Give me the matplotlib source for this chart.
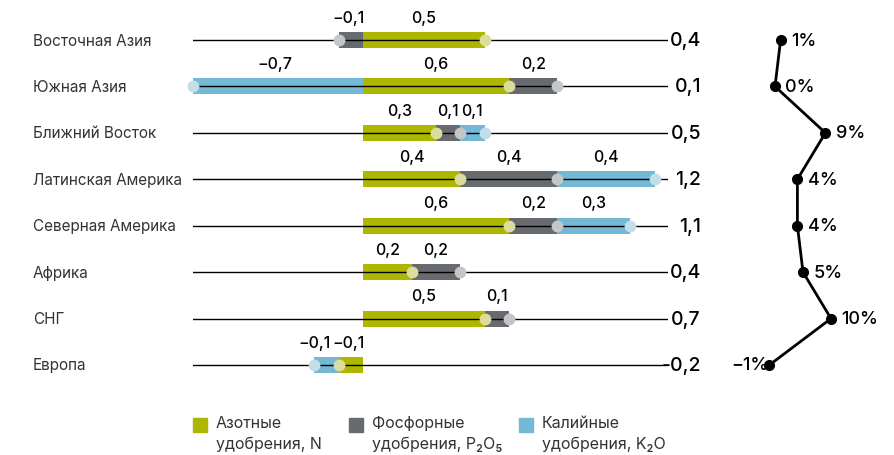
import matplotlib.pyplot as plt
import matplotlib.transforms as mtransforms
from matplotlib.patches import Rectangle

plt.rcParams['font.family'] = ['Inter', 'DejaVu Sans']

regions = ['Восточная Азия', 'Южная Азия', 'Ближний Восток', 'Латинская Америка',
           'Северная Америка', 'Африка', 'СНГ', 'Европа']
nitrogen = [0.5, 0.6, 0.3, 0.4, 0.6, 0.2, 0.5, -0.1]
phosphate = [-0.1, 0.2, 0.1, 0.4, 0.2, 0.2, 0.1, 0.0]
potash = [0.0, -0.7, 0.1, 0.4, 0.3, 0.0, 0.0, -0.1]
totals = ['0,4', '0,1', '0,5', '1,2', '1,1', '0,4', '0,7', '-0,2']
growth = [1, 0, 9, 4, 4, 5, 10, -1]

series_names = ['Азотные\nудобрения, N', 'Фосфорные\nудобрения, P₂O₅', 'Калийные\nудобрения, K₂O']
colors = ['#adb600', '#676b6f', '#73b8d4']
dot_colors = ['#dcdd9c', '#c4c6c8', '#c3dde9']

W, H = 895, 456
fig = plt.figure(figsize=(W / 100, H / 100), dpi=100)

# main axes: x px 193..668 -> data -0.70..1.255, rows at y px 41 + 46.43*i
y_top, y_bot = 41 - 23.2, 366 + 23.2
ax = fig.add_axes([193 / W, 1 - y_bot / H, (668 - 193) / W, (y_bot - y_top) / H])
ax.set_xlim(-0.70, 1.255)
ax.set_ylim(7.5, -0.5)
ax.axis('off')

bar_h = 16 / 46.43
def fmt(v):
    s = f'{abs(v):.1f}'.replace('.', ',')
    return ('−' + s) if v < 0 else s

for i in range(len(regions)):
    ax.plot([-0.70, 1.255], [i, i], color='black', lw=1, zorder=3)
    pos, neg = 0.0, 0.0
    prev_neg = False
    for vals, c, dc in zip([nitrogen, phosphate, potash], colors, dot_colors):
        v = vals[i]
        if v == 0:
            continue
        if v > 0:
            start = pos
            pos += v
        else:
            start = neg
            neg += v
        ax.barh(i, v, left=start, height=bar_h, color=c, zorder=2)
        ax.plot(start + v, i, 'o', ms=7.5, color=dc, zorder=4, clip_on=False)
        dx = 0
        if v < 0:
            dx = -2
            if prev_neg:
                dx = -9
            prev_neg = True
        ax.annotate(fmt(v), (start + v / 2, i - 0.33), xytext=(dx, 0),
                    textcoords='offset points', ha='center', va='bottom',
                    fontsize=11.5, fontweight=500, color='black')

blend_fig = mtransforms.blended_transform_factory(fig.transFigure, ax.transData)
for i, name in enumerate(regions):
    fig.text(33 / W, i, name, transform=blend_fig, ha='left', va='center',
             fontsize=11, color='#333333')
    fig.text(701 / W, i, totals[i], transform=blend_fig, ha='right', va='center',
             fontsize=14, fontweight=500, color='black')

# right panel: growth, x px 0% at 775, 5.6 px per %
ax2 = fig.add_axes([740 / W, 1 - y_bot / H, 140 / W, (y_bot - y_top) / H])
ax2.set_xlim((740 - 775) / 5.6, (880 - 775) / 5.6)
ax2.set_ylim(7.5, -0.5)
ax2.axis('off')
ax2.plot(growth, range(len(growth)), color='black', lw=2, marker='o', ms=7)
for i, g in enumerate(growth):
    if g < 0:
        ax2.annotate(f'−{abs(g)}%', (g, i), xytext=(-1, 0), textcoords='offset points',
                     ha='right', va='center', fontsize=13, fontweight=500)
    else:
        ax2.annotate(f'{g}%', (g, i), xytext=(7.5, 0), textcoords='offset points',
                     ha='left', va='center', fontsize=13, fontweight=500)

# legend
leg_x = [193, 349, 519]
for x, c, name in zip(leg_x, colors, series_names):
    fig.patches.append(Rectangle((x / W, 1 - 433 / H), 14 / W, 14 / H,
                                 transform=fig.transFigure, color=c))
    fig.text((x + 23) / W, 1 - 416 / H, name, ha='left', va='top', fontsize=11.5,
             color='#333333', linespacing=1.45)

fig.savefig('out.png', dpi=100)
